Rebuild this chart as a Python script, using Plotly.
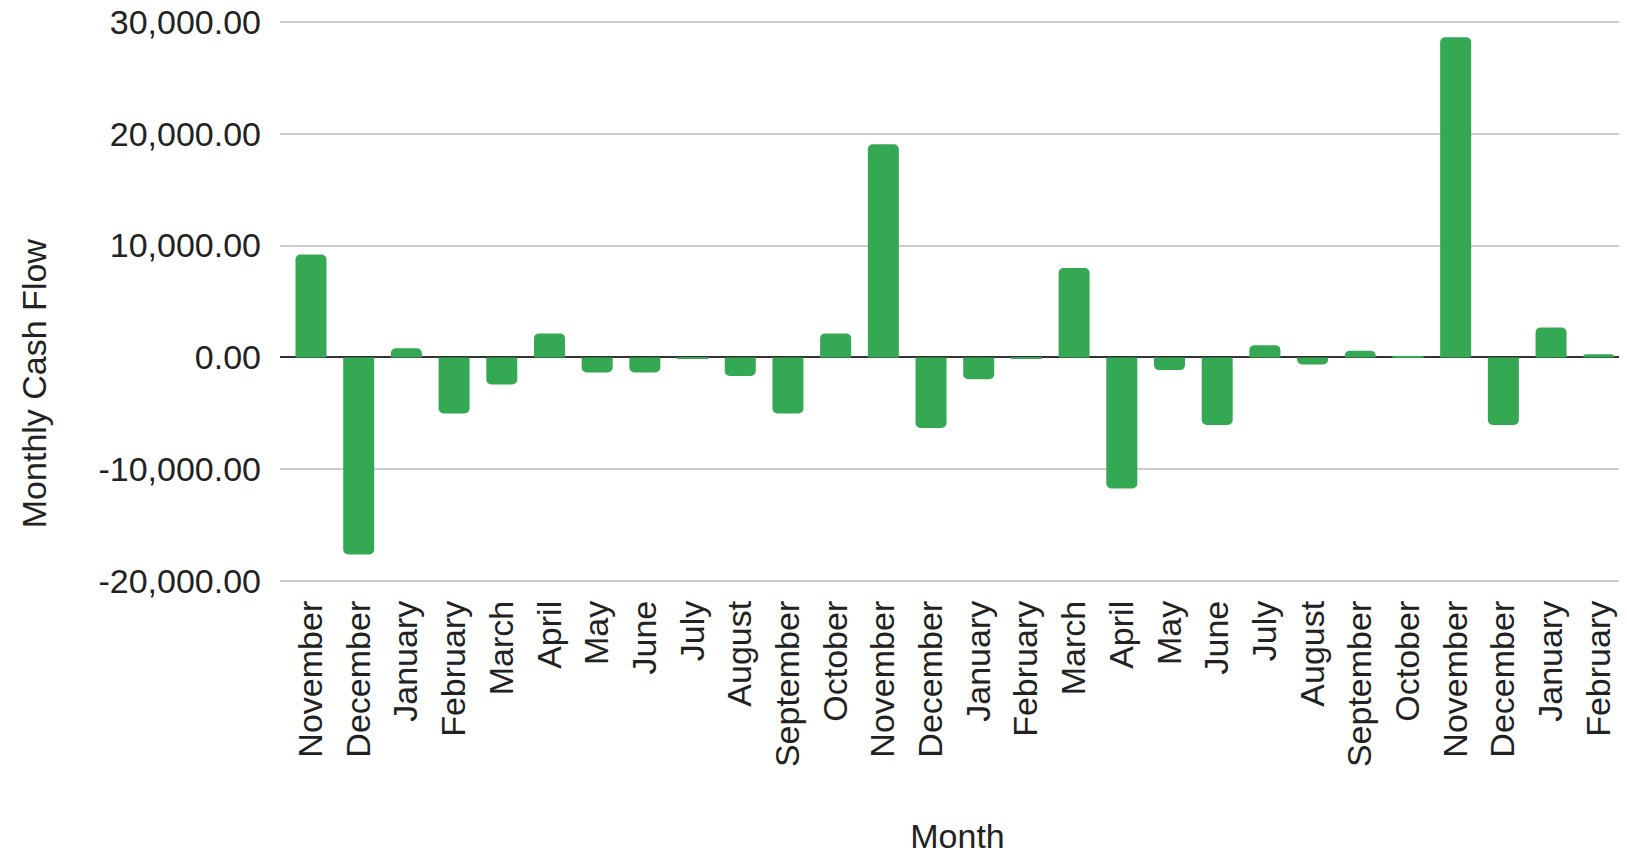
import plotly.graph_objects as go

months = ["November", "December", "January", "February", "March", "April", "May",
          "June", "July", "August", "September", "October", "November", "December",
          "January", "February", "March", "April", "May", "June", "July", "August",
          "September", "October", "November", "December", "January", "February"]
cash_flow = [9200, -17600, 830, -5000, -2420, 2150, -1340, -1340, -80, -1650,
             -5000, 2150, 19050, -6300, -1940, -60, 8000, -11700, -1130, -6040,
             1100, -630, 590, 60, 28600, -6040, 2680, 280]
y_ticks = [-20000, -10000, 0, 10000, 20000, 30000]
y_tick_labels = [f"{v:,.2f}" for v in y_ticks]

positions = list(range(len(months)))
FONT = "Liberation Sans, Arial, sans-serif"
FS = 34

fig = go.Figure(go.Bar(x=positions, y=cash_flow, marker=dict(color="#34A853", line=dict(width=0))))

fig.update_layout(
    width=1627, height=857,
    margin=dict(l=272, r=0, t=12, b=282),
    paper_bgcolor="white", plot_bgcolor="white",
    bargap=0.35, barcornerradius=5,
    showlegend=False,
    font=dict(family=FONT, size=FS, color="#222222"),
    xaxis=dict(
        tickmode="array", tickvals=positions, ticktext=months,
        tickangle=-90, range=[-0.65, 27.76],
        showgrid=False, zeroline=False, showline=False, ticks="",
        ticklabelstandoff=10, automargin=False,
        title=dict(text="Month", font=dict(size=FS, color="#222222"), standoff=58),
        tickfont=dict(size=FS, color="#222222"),
    ),
    yaxis=dict(
        tickmode="array", tickvals=y_ticks, ticktext=y_tick_labels,
        range=[-20150, 30150],
        showgrid=True, gridcolor="#cccccc", gridwidth=2,
        zeroline=True, zerolinecolor="#333333", zerolinewidth=2,
        showline=False, ticks="", ticklabelstandoff=18,
        ticklabeloverflow="allow", automargin=False,
        tickfont=dict(size=FS, color="#222222"),
    ),
    annotations=[dict(
        text="Monthly Cash Flow", xref="paper", yref="paper",
        x=-0.1815, y=0.355, xanchor="center", yanchor="middle",
        textangle=-90, showarrow=False,
        font=dict(family=FONT, size=FS, color="#222222"),
    )],
)

fig.write_html("out.html")
